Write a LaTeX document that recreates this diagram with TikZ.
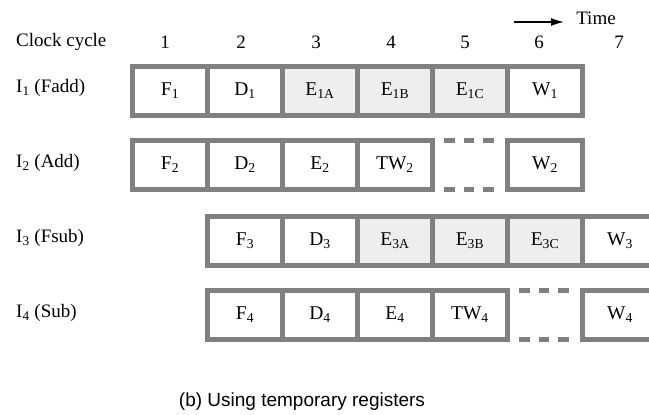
\documentclass[tikz,border=0pt]{standalone}
\usepackage{fontspec}
\setmainfont{Liberation Serif}
\setsansfont{Liberation Sans}
\usetikzlibrary{arrows.meta}
\definecolor{borde}{HTML}{808080}
\definecolor{relleno}{HTML}{EEEEEE}

\begin{document}
\begin{tikzpicture}[x=1pt, y=-1pt,
            etapa/.style={rectangle, draw=borde, line width=4.5pt, minimum width=75pt, minimum height=49pt, inner sep=0pt, font=\fontsize{19.5}{22}\selectfont},
            ejec/.style={etapa, fill=relleno},
            hueco/.style={rectangle, minimum width=75pt, minimum height=49pt, inner sep=0pt},
            punteado/.style={draw=borde, line width=4.5pt, dash pattern=on 10.5pt off 9pt, shorten <=12pt, shorten >=12pt},
            etiqueta/.style={anchor=west, inner sep=0pt, font=\fontsize{19}{22}\selectfont},
            numero/.style={font=\fontsize{19}{22}\selectfont},
            flecha/.style={-{Latex[length=13pt, width=8pt]}, line width=1.4pt}
        ]
            \useasboundingbox (0,0) rectangle (649,415);

            % Encabezado
            \node[etiqueta] (reloj) at (16,42) {Clock cycle};
            \node[numero] (n1) at (165,42) {1};
            \node[numero] (n2) at (241,42) {2};
            \node[numero] (n3) at (316,42) {3};
            \node[numero] (n4) at (391,42) {4};
            \node[numero] (n5) at (465,42) {5};
            \node[numero] (n6) at (539,42) {6};
            \node[numero] (n7) at (619,42) {7};

            % Tiempo
            \node[numero] (tiempo) at (596,18) {Time};
            \coordinate (t0) at (514,22);
            \coordinate (t1) at (564,22);
            \draw[flecha] (t0) -- (t1);

            % Etiquetas de instrucciones
            \node[etiqueta] (i1) at (16,88) {I\textsubscript{1} (Fadd)};
            \node[etiqueta] (i2) at (16,163) {I\textsubscript{2} (Add)};
            \node[etiqueta] (i3) at (16,238) {I\textsubscript{3} (Fsub)};
            \node[etiqueta] (i4) at (16,313) {I\textsubscript{4} (Sub)};

            % Instruccion 1
            \node[etapa] (f1) at (170,91) {F\textsubscript{1}};
            \node[etapa] (d1) at (245,91) {D\textsubscript{1}};
            \node[ejec] (e1a) at (320,91) {E\textsubscript{1A}};
            \node[ejec] (e1b) at (395,91) {E\textsubscript{1B}};
            \node[ejec] (e1c) at (470,91) {E\textsubscript{1C}};
            \node[etapa] (w1) at (545,91) {W\textsubscript{1}};

            % Instruccion 2
            \node[etapa] (f2) at (170,165) {F\textsubscript{2}};
            \node[etapa] (d2) at (245,165) {D\textsubscript{2}};
            \node[etapa] (e2) at (320,165) {E\textsubscript{2}};
            \node[etapa] (tw2) at (395,165) {TW\textsubscript{2}};
            \node[hueco] (h2) at (470,165) {};
            \node[etapa] (w2) at (545,165) {W\textsubscript{2}};

            % Instruccion 3
            \node[etapa] (f3) at (245,241) {F\textsubscript{3}};
            \node[etapa] (d3) at (320,241) {D\textsubscript{3}};
            \node[ejec] (e3a) at (395,241) {E\textsubscript{3A}};
            \node[ejec] (e3b) at (470,241) {E\textsubscript{3B}};
            \node[ejec] (e3c) at (545,241) {E\textsubscript{3C}};
            \node[etapa] (w3) at (620,241) {W\textsubscript{3}};

            % Instruccion 4
            \node[etapa] (f4) at (245,315) {F\textsubscript{4}};
            \node[etapa] (d4) at (320,315) {D\textsubscript{4}};
            \node[etapa] (e4) at (395,315) {E\textsubscript{4}};
            \node[etapa] (tw4) at (470,315) {TW\textsubscript{4}};
            \node[hueco] (h4) at (545,315) {};
            \node[etapa] (w4) at (620,315) {W\textsubscript{4}};

            % Huecos punteados
            \draw[punteado] (h2.north west) -- (h2.north east);
            \draw[punteado] (h2.south west) -- (h2.south east);
            \draw[punteado] (h4.north west) -- (h4.north east);
            \draw[punteado] (h4.south west) -- (h4.south east);

            % Titulo
            \node[font=\sffamily\fontsize{19}{22}\selectfont] (titulo) at (302,402) {(b) Using temporary registers};

        \end{tikzpicture}
\end{document}
